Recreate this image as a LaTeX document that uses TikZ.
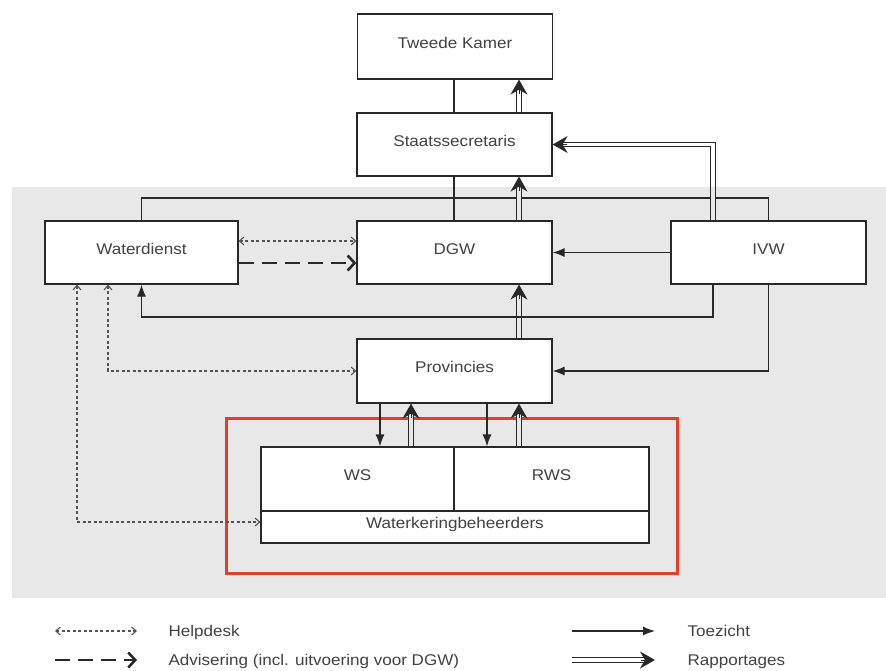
\documentclass[tikz,border=0pt]{standalone}
\usepackage{fontspec}
\setmainfont{Liberation Sans}[FakeStretch=1.1]
\usetikzlibrary{arrows.meta,calc}
\definecolor{bg}{RGB}{232,232,233}
\definecolor{ln}{RGB}{40,40,40}
\definecolor{txt}{RGB}{65,65,65}
\definecolor{redb}{RGB}{228,62,42}
\newcommand\myDbl[3][bg]{%
  \draw[dbl,double=#1,shorten >=7pt] (#2) -- (#3);
  \draw[dtip] ($(#3)!14pt!(#2)$) -- (#3);}
\begin{document}
\begin{tikzpicture}[x=1pt,y=-1pt,
  every node/.style={font=\fontsize{15.5}{18}\selectfont, text=txt},
  box/.style={draw=ln, line width=1.2pt, fill=white, minimum width=195pt,
    minimum height=63pt, inner sep=0pt, text height=11.2pt, text depth=8.2pt},
  plain/.style={draw=ln, line width=1.2pt},
  tz/.style={draw=ln, line width=1.2pt, -{Latex[length=12pt,width=9pt]}},
  dbl/.style={draw=ln, line width=1pt, double distance=3.5pt},
  dtip/.style={draw=ln, fill=ln, line width=1pt, -{Stealth[length=15pt,width=17pt,inset=5pt]}},
  hd/.style={draw=ln!80, line width=1.1pt, dash pattern=on 3pt off 2.5pt,
    {Straight Barb[length=4.5pt,width=8pt]}-{Straight Barb[length=4.5pt,width=8pt]}},
  adv/.style={draw=ln, line width=2.6pt, dash pattern=on 15pt off 8pt,
    -{Straight Barb[length=7pt,width=15pt]}}]
\useasboundingbox (0,0) rectangle (886,670);
\fill[bg] (12,187) rectangle (886,598);

% boxes
\node[box, minimum height=65pt] (tk) at (455,46.5) {Tweede Kamer};
\node[box] (ss) at (454.5,144.5) {Staatssecretaris};
\node[box] (dgw) at (454.5,252.5) {DGW};
\node[box, minimum width=193pt] (wd) at (141.5,252.5) {Waterdienst};
\node[box] (ivw) at (768.5,252.5) {IVW};
\node[box, minimum height=64pt] (prov) at (454.5,371) {Provincies};
\draw[redb, line width=3pt] (226,418) rectangle (677,573);
\node[box, minimum width=193pt, minimum height=64pt] (ws) at (357.5,479) {WS};
\node[box, minimum width=195pt, minimum height=64pt] (rws) at (551.5,479) {RWS};
\node[box, minimum width=388pt, minimum height=32pt] (wkb) at (455,527) {Waterkeringbeheerders};

% helper coordinates
\coordinate (x454) at (454,0);
\coordinate (x519) at (519,0);
\coordinate (x713) at (713,0);
\coordinate (x108) at (108,0);
\coordinate (x77) at (77,0);
\coordinate (x380) at (380,0);
\coordinate (x411) at (411,0);
\coordinate (x487) at (487,0);
\coordinate (y198) at (0,198);
\coordinate (y317) at (0,317);
\coordinate (y241) at (0,241);
\coordinate (y263) at (0,263);
\coordinate (y522) at (0,522);
\coordinate (ygrey) at (0,187);

% hierarchy lines
\draw[plain] (tk.south -| x454) -- (ss.north -| x454);
\draw[plain] (ss.south -| x454) -- (dgw.north -| x454);
\draw[plain] (wd.north) -- (wd.north |- y198) -- (ivw.north |- y198) -- (ivw.north);

% rapportages
\myDbl[white]{ss.north -| x519}{tk.south -| x519}
\myDbl{dgw.north -| x519}{ss.south -| x519}
\myDbl{prov.north -| x519}{dgw.south -| x519}
\draw[dbl, double=white, shorten >=7pt] (ivw.north -| x713) |- (ss.east);
\draw[dbl, double=bg] (ivw.north -| x713) -- (ygrey -| x713);
\draw[dtip] ($(ss.east)+(14,0)$) -- (ss.east);
\myDbl{ws.north -| x411}{prov.south -| x411}
\myDbl{rws.north -| x519}{prov.south -| x519}

% toezicht
\draw[tz] (ivw.west) -- (dgw.east);
\draw[tz] (ivw.south -| x713) -- (x713 |- y317) -- (wd.south |- y317) -- (wd.south);
\draw[tz] (ivw.south) |- (prov.east);
\draw[tz] (prov.south -| x380) -- (ws.north -| x380);
\draw[tz] (prov.south -| x487) -- (rws.north -| x487);

% helpdesk / advisering
\draw[hd] (wd.east |- y241) -- (dgw.west |- y241);
\draw[adv] (wd.east |- y263) -- (dgw.west |- y263);
\draw[hd] (wd.south -| x108) |- (prov.west);
\draw[hd] (wd.south -| x77) |- (wkb.west |- y522);

% legend
\coordinate (h1) at (55,631); \coordinate (h2) at (137,631);
\coordinate (a1) at (55,660); \coordinate (a2) at (137,660);
\coordinate (t1) at (572,631); \coordinate (t2) at (655,631);
\coordinate (r1) at (572,660); \coordinate (r2) at (655,660);
\draw[hd] (h1) -- (h2);
\draw[adv] (a1) -- (a2);
\draw[tz] (t1) -- (t2);
\myDbl[white]{r1}{r2}
\node[anchor=base west] (lh) at (165,636) {Helpdesk};
\node[anchor=base west] (la) at (165,665) {Advisering (incl. uitvoering voor DGW)};
\node[anchor=base west] (lt) at (684,636) {Toezicht};
\node[anchor=base west] (lr) at (684,665) {Rapportages};
\end{tikzpicture}
\end{document}
